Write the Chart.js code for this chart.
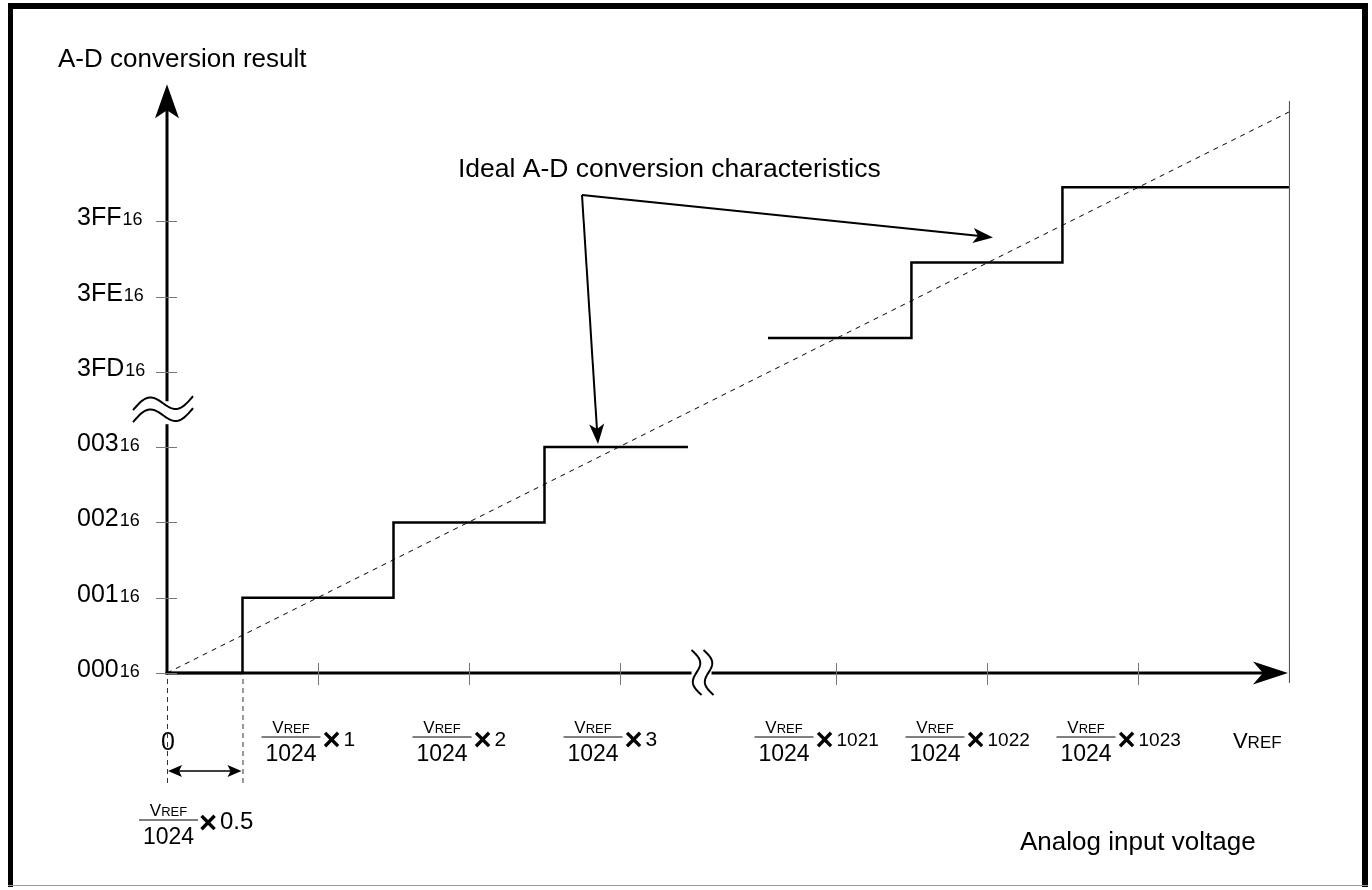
<!DOCTYPE html>
<html>
<head>
<meta charset="utf-8">
<script src="https://cdn.jsdelivr.net/npm/chart.js@4.4.1/dist/chart.umd.min.js"></script>
<style>
  html, body { margin: 0; padding: 0; background: #fff; }
  canvas { display: block; }
</style>
</head>
<body>
<canvas id="chart" width="1372" height="890"></canvas>
<script>
// === DATA ===
// low end of the transfer curve (input in LSB, output code)
const lowInput  = [0, 1, 2, 3, 3.45];
const lowCode   = [0, 1, 2, 3, 3];
// top end of the transfer curve, beyond the axis breaks
const highInput = [1020.55, 1021, 1022, 1023, 1024];
const highCode  = [1021, 1021, 1022, 1023, 1023];
// ideal straight characteristic
const idealInput = [0, 1024];
const idealCode  = [0, 1024];

const yTickCodes  = [0, 1, 2, 3, 1021, 1022, 1023];
const yTickLabels = ['000', '001', '002', '003', '3FD', '3FE', '3FF'];
const xTickInputs = [1, 2, 3, 1021, 1022, 1023];
const xTickMult   = ['1', '2', '3', '1021', '1022', '1023'];

// axis breaks: values past the break are pulled back next to the low ones
const X_SHIFT = 1016.57;
const Y_SHIFT = 1016.55;      // curve
const Y_TICK_SHIFT = 1017;    // tick labels sit a bit lower than the curve in the original
const bx = v => v > 100 ? v - X_SHIFT : v;
const by = c => c > 100 ? c - Y_SHIFT : c;
const byTick = c => c > 100 ? c - Y_TICK_SHIFT : c;

const FONT = '"Liberation Sans", Arial, Helvetica, sans-serif';

function seg(ctx, x1, y1, x2, y2) {
  ctx.beginPath(); ctx.moveTo(x1, y1); ctx.lineTo(x2, y2); ctx.stroke();
}

// filled arrow head, tip at (tx,ty) pointing away from (fx,fy)
function arrowHead(ctx, tx, ty, fx, fy, len, half, notch) {
  const a = Math.atan2(ty - fy, tx - fx);
  const c = Math.cos(a), s = Math.sin(a);
  ctx.beginPath();
  ctx.moveTo(tx, ty);
  ctx.lineTo(tx - len * c - half * s, ty - len * s + half * c);
  ctx.lineTo(tx - (len - notch) * c, ty - (len - notch) * s);
  ctx.lineTo(tx - len * c + half * s, ty - len * s - half * c);
  ctx.closePath();
  ctx.fill();
}

function wave(ctx, x1, y1, x2, y2, ax, ay) {
  ctx.beginPath();
  for (let i = 0; i <= 40; i++) {
    const t = i / 40, k = Math.sin(2 * Math.PI * t);
    const x = x1 + (x2 - x1) * t + ax * k;
    const y = y1 + (y2 - y1) * t + ay * k;
    i ? ctx.lineTo(x, y) : ctx.moveTo(x, y);
  }
  ctx.stroke();
}

function vref(ctx, x, baseline, center, big, small) {
  ctx.font = big + 'px ' + FONT;
  const wV = ctx.measureText('V').width;
  ctx.font = small + 'px ' + FONT;
  const wR = ctx.measureText('REF').width;
  const x0 = center ? x - (wV + wR) / 2 : x;
  ctx.textAlign = 'left';
  ctx.font = big + 'px ' + FONT;
  ctx.fillText('V', x0, baseline);
  ctx.font = small + 'px ' + FONT;
  ctx.fillText('REF', x0 + wV, baseline);
}

// VREF / 1024 x n
function fracLabel(ctx, left, lineY, mult, gap, multSize) {
  const w = 59;
  ctx.strokeStyle = '#000';
  ctx.lineWidth = 1;
  seg(ctx, left, lineY, left + w, lineY);
  ctx.textBaseline = 'alphabetic';
  vref(ctx, left + w / 2, lineY - 4, true, 17, 13);
  ctx.font = '23px ' + FONT;
  ctx.textAlign = 'center';
  ctx.fillText('1024', left + w / 2, lineY + 24);
  ctx.font = 'bold 31px ' + FONT;
  ctx.textAlign = 'left';
  const m = ctx.measureText('\u00d7');
  const xl = left + w + gap;
  const cy = lineY + 2;
  ctx.fillText('\u00d7', xl + m.actualBoundingBoxLeft,
    cy + (m.actualBoundingBoxAscent - m.actualBoundingBoxDescent) / 2);
  const xr = xl + m.actualBoundingBoxLeft + m.actualBoundingBoxRight;
  ctx.font = multSize + 'px ' + FONT;
  ctx.fillText(mult, xr + 4, lineY + 9);
}

const diagram = {
  id: 'diagram',
  afterDraw(chart) {
    const ctx = chart.ctx;
    const xs = chart.scales.x, ys = chart.scales.y;
    const X0 = xs.getPixelForValue(0), Y0 = ys.getPixelForValue(0);
    ctx.save();
    ctx.fillStyle = '#000';
    ctx.strokeStyle = '#000';

    // frame
    ctx.fillRect(8, 3, 1360, 6);
    ctx.fillRect(8, 3, 5, 884);
    ctx.fillRect(1362, 3, 6, 884);
    ctx.fillStyle = '#999';
    ctx.fillRect(8, 885, 1360, 1);
    ctx.fillStyle = '#000';

    // VREF limit line
    const xV = xs.getPixelForValue(bx(1024));
    ctx.strokeStyle = '#444';
    ctx.lineWidth = 1;
    seg(ctx, xV + 0.5, 101, xV + 0.5, Y0 + 10);

    // y axis with break
    const yTop = ys.getPixelForValue(7.82);
    const yb = ys.getPixelForValue(3.45);
    ctx.strokeStyle = '#000';
    ctx.lineWidth = 3;
    seg(ctx, X0, Y0 + 1.5, X0, yb + 11);
    seg(ctx, X0, yb - 12, X0, yTop + 20);
    arrowHead(ctx, X0, yTop, X0, yTop + 50, 34, 12, 8);
    ctx.lineWidth = 2;
    wave(ctx, X0 - 34, yb - 3, X0 + 26, yb - 17, 0, -9);
    wave(ctx, X0 - 34, yb + 9, X0 + 26, yb - 5, 0, -9);

    // x axis with break
    const xEnd = xs.getPixelForValue(bx(1024)) - 1;
    const xb = xs.getPixelForValue(3.54);
    ctx.lineWidth = 3;
    seg(ctx, X0 - 1.5, Y0, xb - 10, Y0);
    seg(ctx, xb + 10, Y0, xEnd - 25, Y0);
    arrowHead(ctx, xEnd, Y0, xEnd - 50, Y0, 35, 11.5, 10);
    ctx.lineWidth = 2;
    wave(ctx, xb - 10, Y0 - 23, xb, Y0 + 22, 6, 0);
    wave(ctx, xb + 2, Y0 - 23, xb + 12, Y0 + 22, 6, 0);

    // y ticks + labels
    ctx.strokeStyle = '#777';
    ctx.lineWidth = 1;
    ctx.textBaseline = 'alphabetic';
    ctx.textAlign = 'left';
    ctx.fillStyle = '#000';
    yTickCodes.forEach((c, i) => {
      const y = Math.round(ys.getPixelForValue(byTick(c))) + 0.5;
      seg(ctx, X0 - 11, y, X0 + 10, y);
      ctx.font = '25px ' + FONT;
      ctx.fillText(yTickLabels[i], 77, y + 3);
      const w = ctx.measureText(yTickLabels[i]).width;
      ctx.font = '18px ' + FONT;
      ctx.fillText('16', 77 + w + 1, y + 3);
    });

    // x ticks + labels
    xTickInputs.forEach((v, i) => {
      const x = Math.round(xs.getPixelForValue(bx(v))) + 0.5;
      ctx.strokeStyle = '#777';
      ctx.lineWidth = 1;
      seg(ctx, x, Y0 - 10, x, Y0 + 12);
      ctx.fillStyle = '#000';
      const left = v > 100 ? x - 82 : x - 57;
      fracLabel(ctx, left, 737, xTickMult[i], 3, v > 100 ? 19 : 21);
    });
    ctx.fillStyle = '#000';
    ctx.textBaseline = 'alphabetic';
    vref(ctx, xV - 56, 748, false, 22, 17);

    // zero and half-LSB marks
    const xH = xs.getPixelForValue(0.5);
    ctx.font = '25px ' + FONT;
    ctx.textAlign = 'left';
    ctx.fillText('0', X0 - 6, 750);
    ctx.strokeStyle = '#333';
    ctx.lineWidth = 1;
    ctx.setLineDash([5, 4]);
    seg(ctx, X0 + 0.5, Y0 + 6, X0 + 0.5, 783);
    seg(ctx, xH + 0.5, Y0 + 6, xH + 0.5, 783);
    ctx.setLineDash([]);
    ctx.strokeStyle = '#000';
    ctx.lineWidth = 1.5;
    seg(ctx, X0 + 6, 771, xH - 6, 771);
    arrowHead(ctx, X0 + 1, 771, X0 + 20, 771, 14, 6, 3);
    arrowHead(ctx, xH - 1, 771, xH - 20, 771, 14, 6, 3);
    fracLabel(ctx, 139, 820, '0.5', 2, 24);

    // titles
    ctx.fillStyle = '#000';
    ctx.font = '26px ' + FONT;
    ctx.textAlign = 'left';
    ctx.textBaseline = 'alphabetic';
    ctx.fillText('A-D conversion result', 58, 67);
    ctx.fillText('Analog input voltage', 1020, 850);
    ctx.font = '26.5px ' + FONT;
    ctx.fillText('Ideal A-D conversion characteristics', 458, 177);

    // pointer arrows
    ctx.lineWidth = 2;
    const vx = 582, vy = 195;
    seg(ctx, vx, vy, 980, 236);
    arrowHead(ctx, 993, 237.5, vx, vy, 20, 7.5, 5);
    seg(ctx, vx, vy, 597, 430);
    arrowHead(ctx, 598, 444, vx, vy, 20, 7.5, 5);

    ctx.restore();
  }
};

const toPts = (xs, ys) => xs.map((v, i) => ({ x: bx(v), y: by(ys[i]) }));

const ctx = document.getElementById('chart').getContext('2d');
new Chart(ctx, {
  type: 'scatter',
  data: {
    datasets: [
      { data: toPts(lowInput, lowCode), showLine: true, stepped: 'middle',
        borderColor: '#000', borderWidth: 2.5, pointRadius: 0, clip: false },
      { data: toPts(highInput, highCode), showLine: true, stepped: 'middle',
        borderColor: '#000', borderWidth: 2.5, pointRadius: 0, clip: false },
      { data: toPts(idealInput, idealCode), showLine: true,
        borderColor: '#000', borderWidth: 1, borderDash: [5, 5], pointRadius: 0, clip: false }
    ]
  },
  options: {
    responsive: false,
    animation: false,
    events: [],
    layout: { padding: { left: 167, right: 72.5, top: 70.6, bottom: 217 } },
    plugins: { legend: { display: false }, tooltip: { enabled: false } },
    scales: {
      x: { type: 'linear', min: 0, max: 7.5, display: false },
      y: { type: 'linear', min: 0, max: 8, display: false }
    }
  },
  plugins: [diagram]
});
</script>
</body>
</html>
